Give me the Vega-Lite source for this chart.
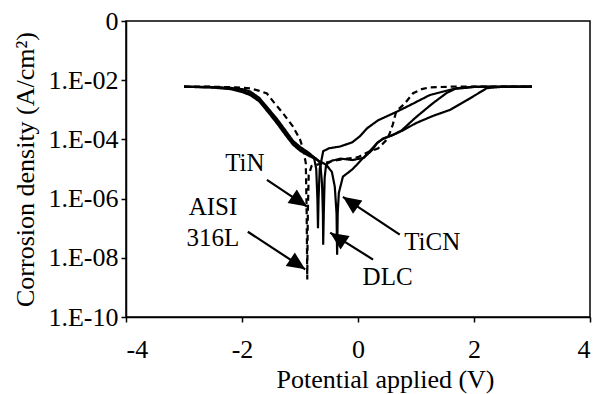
{
  "$schema": "https://vega.github.io/schema/vega-lite/v6.json",
  "width": 464,
  "height": 296,
  "autosize": {"type": "none"},
  "padding": {"left": 126, "top": 21, "right": 5, "bottom": 77},
  "background": "white",
  "config": {
    "font": "Liberation Serif",
    "view": {"stroke": "black", "strokeWidth": 1.5},
    "axis": {
      "grid": false,
      "domainColor": "black",
      "domainWidth": 1.5,
      "tickColor": "black",
      "tickWidth": 1.5,
      "tickSize": 5,
      "labelFont": "Liberation Serif",
      "labelFontSize": 26,
      "labelColor": "black",
      "titleFont": "Liberation Serif",
      "titleFontSize": 26,
      "titleFontWeight": "normal",
      "titleColor": "black"
    }
  },
  "datasets": {
    "curves": [
      {"series": "AISI 316L", "E": -3.0, "J": 6.03e-3},
      {"series": "AISI 316L", "E": -2.5, "J": 6.03e-3},
      {"series": "AISI 316L", "E": -2.1, "J": 5.75e-3},
      {"series": "AISI 316L", "E": -1.85, "J": 5.25e-3},
      {"series": "AISI 316L", "E": -1.7, "J": 4.37e-3},
      {"series": "AISI 316L", "E": -1.57, "J": 3.55e-3},
      {"series": "AISI 316L", "E": -1.45, "J": 1.78e-3},
      {"series": "AISI 316L", "E": -1.3, "J": 7.94e-4},
      {"series": "AISI 316L", "E": -1.12, "J": 2.69e-4},
      {"series": "AISI 316L", "E": -1.0, "J": 1.0e-4},
      {"series": "AISI 316L", "E": -0.95, "J": 5.01e-5},
      {"series": "AISI 316L", "E": -0.9, "J": 1.58e-5},
      {"series": "AISI 316L", "E": -0.885, "J": 3.16e-7},
      {"series": "AISI 316L", "E": -0.875, "J": 1.86e-9},
      {"series": "AISI 316L", "E": -0.865, "J": 3.16e-7},
      {"series": "AISI 316L", "E": -0.85, "J": 6.31e-6},
      {"series": "AISI 316L", "E": -0.8, "J": 1.26e-5},
      {"series": "AISI 316L", "E": -0.6, "J": 1.58e-5},
      {"series": "AISI 316L", "E": -0.36, "J": 2.0e-5},
      {"series": "AISI 316L", "E": 0.0, "J": 2.51e-5},
      {"series": "AISI 316L", "E": 0.15, "J": 3.55e-5},
      {"series": "AISI 316L", "E": 0.35, "J": 5.01e-5},
      {"series": "AISI 316L", "E": 0.5, "J": 1.0e-4},
      {"series": "AISI 316L", "E": 0.55, "J": 1.66e-4},
      {"series": "AISI 316L", "E": 0.6, "J": 3.16e-4},
      {"series": "AISI 316L", "E": 0.65, "J": 7.59e-4},
      {"series": "AISI 316L", "E": 0.7, "J": 1.05e-3},
      {"series": "AISI 316L", "E": 0.8, "J": 1.58e-3},
      {"series": "AISI 316L", "E": 0.95, "J": 3.63e-3},
      {"series": "AISI 316L", "E": 1.1, "J": 5.01e-3},
      {"series": "AISI 316L", "E": 1.24, "J": 5.75e-3},
      {"series": "AISI 316L", "E": 1.6, "J": 6.03e-3},
      {"series": "AISI 316L", "E": 3.0, "J": 6.03e-3},

      {"series": "TiN", "E": -3.0, "J": 6.03e-3},
      {"series": "TiN", "E": -2.5, "J": 5.89e-3},
      {"series": "TiN", "E": -2.2, "J": 5.50e-3},
      {"series": "TiN", "E": -2.0, "J": 5.01e-3},
      {"series": "TiN", "E": -1.86, "J": 4.17e-3},
      {"series": "TiN", "E": -1.7, "J": 2.51e-3},
      {"series": "TiN", "E": -1.55, "J": 1.12e-3},
      {"series": "TiN", "E": -1.4, "J": 5.01e-4},
      {"series": "TiN", "E": -1.25, "J": 2.0e-4},
      {"series": "TiN", "E": -1.12, "J": 8.91e-5},
      {"series": "TiN", "E": -1.0, "J": 5.62e-5},
      {"series": "TiN", "E": -0.85, "J": 3.55e-5},
      {"series": "TiN", "E": -0.76, "J": 2.51e-5},
      {"series": "TiN", "E": -0.72, "J": 1.0e-5},
      {"series": "TiN", "E": -0.7, "J": 1.0e-6},
      {"series": "TiN", "E": -0.69, "J": 1.0e-7},
      {"series": "TiN", "E": -0.68, "J": 1.0e-6},
      {"series": "TiN", "E": -0.66, "J": 1.0e-5},
      {"series": "TiN", "E": -0.6, "J": 3.98e-5},
      {"series": "TiN", "E": -0.5, "J": 5.01e-5},
      {"series": "TiN", "E": -0.31, "J": 5.75e-5},
      {"series": "TiN", "E": -0.1, "J": 7.94e-5},
      {"series": "TiN", "E": 0.03, "J": 1.26e-4},
      {"series": "TiN", "E": 0.16, "J": 2.40e-4},
      {"series": "TiN", "E": 0.35, "J": 4.47e-4},
      {"series": "TiN", "E": 0.61, "J": 7.59e-4},
      {"series": "TiN", "E": 0.84, "J": 1.26e-3},
      {"series": "TiN", "E": 1.24, "J": 3.16e-3},
      {"series": "TiN", "E": 1.64, "J": 5.01e-3},
      {"series": "TiN", "E": 2.0, "J": 5.89e-3},
      {"series": "TiN", "E": 3.0, "J": 6.03e-3},

      {"series": "DLC", "E": -3.0, "J": 6.03e-3},
      {"series": "DLC", "E": -2.5, "J": 5.75e-3},
      {"series": "DLC", "E": -2.2, "J": 5.25e-3},
      {"series": "DLC", "E": -2.0, "J": 4.47e-3},
      {"series": "DLC", "E": -1.86, "J": 3.55e-3},
      {"series": "DLC", "E": -1.7, "J": 2.09e-3},
      {"series": "DLC", "E": -1.55, "J": 9.55e-4},
      {"series": "DLC", "E": -1.4, "J": 4.17e-4},
      {"series": "DLC", "E": -1.25, "J": 1.66e-4},
      {"series": "DLC", "E": -1.12, "J": 7.59e-5},
      {"series": "DLC", "E": -1.0, "J": 4.79e-5},
      {"series": "DLC", "E": -0.85, "J": 3.16e-5},
      {"series": "DLC", "E": -0.72, "J": 2.24e-5},
      {"series": "DLC", "E": -0.65, "J": 1.58e-5},
      {"series": "DLC", "E": -0.62, "J": 3.16e-6},
      {"series": "DLC", "E": -0.605, "J": 3.16e-7},
      {"series": "DLC", "E": -0.6, "J": 2.75e-8},
      {"series": "DLC", "E": -0.59, "J": 3.16e-7},
      {"series": "DLC", "E": -0.575, "J": 5.01e-6},
      {"series": "DLC", "E": -0.55, "J": 1.41e-5},
      {"series": "DLC", "E": -0.45, "J": 1.91e-5},
      {"series": "DLC", "E": -0.3, "J": 2.24e-5},
      {"series": "DLC", "E": -0.1, "J": 2.0e-5},
      {"series": "DLC", "E": 0.1, "J": 2.40e-5},
      {"series": "DLC", "E": 0.25, "J": 4.47e-5},
      {"series": "DLC", "E": 0.33, "J": 7.59e-5},
      {"series": "DLC", "E": 0.43, "J": 1.05e-4},
      {"series": "DLC", "E": 0.6, "J": 1.41e-4},
      {"series": "DLC", "E": 0.75, "J": 1.91e-4},
      {"series": "DLC", "E": 1.0, "J": 3.55e-4},
      {"series": "DLC", "E": 1.3, "J": 6.31e-4},
      {"series": "DLC", "E": 1.59, "J": 1.0e-3},
      {"series": "DLC", "E": 1.9, "J": 2.24e-3},
      {"series": "DLC", "E": 2.22, "J": 5.37e-3},
      {"series": "DLC", "E": 2.5, "J": 6.03e-3},
      {"series": "DLC", "E": 3.0, "J": 6.03e-3},

      {"series": "TiCN", "E": -3.0, "J": 6.03e-3},
      {"series": "TiCN", "E": -2.5, "J": 5.62e-3},
      {"series": "TiCN", "E": -2.2, "J": 5.01e-3},
      {"series": "TiCN", "E": -2.0, "J": 3.98e-3},
      {"series": "TiCN", "E": -1.86, "J": 3.16e-3},
      {"series": "TiCN", "E": -1.7, "J": 1.91e-3},
      {"series": "TiCN", "E": -1.55, "J": 8.32e-4},
      {"series": "TiCN", "E": -1.4, "J": 3.55e-4},
      {"series": "TiCN", "E": -1.25, "J": 1.41e-4},
      {"series": "TiCN", "E": -1.12, "J": 6.61e-5},
      {"series": "TiCN", "E": -1.0, "J": 4.17e-5},
      {"series": "TiCN", "E": -0.85, "J": 2.82e-5},
      {"series": "TiCN", "E": -0.7, "J": 2.0e-5},
      {"series": "TiCN", "E": -0.55, "J": 1.41e-5},
      {"series": "TiCN", "E": -0.45, "J": 7.94e-6},
      {"series": "TiCN", "E": -0.4, "J": 2.51e-6},
      {"series": "TiCN", "E": -0.37, "J": 3.16e-7},
      {"series": "TiCN", "E": -0.36, "J": 1.26e-8},
      {"series": "TiCN", "E": -0.35, "J": 3.16e-7},
      {"series": "TiCN", "E": -0.33, "J": 1.58e-6},
      {"series": "TiCN", "E": -0.26, "J": 5.50e-6},
      {"series": "TiCN", "E": -0.09, "J": 1.0e-5},
      {"series": "TiCN", "E": 0.03, "J": 1.78e-5},
      {"series": "TiCN", "E": 0.2, "J": 3.98e-5},
      {"series": "TiCN", "E": 0.33, "J": 7.59e-5},
      {"series": "TiCN", "E": 0.43, "J": 1.05e-4},
      {"series": "TiCN", "E": 0.6, "J": 1.41e-4},
      {"series": "TiCN", "E": 0.75, "J": 2.0e-4},
      {"series": "TiCN", "E": 1.0, "J": 5.62e-4},
      {"series": "TiCN", "E": 1.29, "J": 1.66e-3},
      {"series": "TiCN", "E": 1.53, "J": 3.72e-3},
      {"series": "TiCN", "E": 1.7, "J": 5.37e-3},
      {"series": "TiCN", "E": 2.0, "J": 6.03e-3},
      {"series": "TiCN", "E": 3.0, "J": 6.03e-3}
    ],
    "arrows": [
      {"label": "TiN", "E2": -1.57, "J2": 4.27e-6, "E": -0.88, "J": 5.37e-7},
      {"label": "AISI 316L", "E2": -1.9, "J2": 7.59e-8, "E": -0.91, "J": 4.07e-9},
      {"label": "TiCN", "E2": 0.72, "J2": 6.03e-8, "E": -0.26, "J": 1.15e-6},
      {"label": "DLC", "E2": 0.26, "J2": 8.71e-9, "E": -0.48, "J": 7.08e-8}
    ],
    "labels": [
      {"text": "TiN", "E": -1.95, "J": 1.62e-5},
      {"text": "AISI", "E": -2.5, "J": 5.25e-7},
      {"text": "316L", "E": -2.5, "J": 4.79e-8},
      {"text": "TiCN", "E": 1.28, "J": 3.3e-8},
      {"text": "DLC", "E": 0.51, "J": 2.29e-9}
    ]
  },
  "encoding": {
    "x": {"field": "E", "type": "quantitative", "title": "Potential applied (V)",
          "scale": {"domain": [-4, 4], "nice": false},
          "axis": {"values": [-4, -2, 0, 2, 4], "labelPadding": 14,
                   "labelExpr": "datum.value < 0 ? '-' + abs(datum.value) : '' + datum.value",
                   "titleX": 259, "titleY": 70, "titleBaseline": "alphabetic", "titleAlign": "center"}},
    "y": {"field": "J", "type": "quantitative", "title": "Corrosion density (A/cm²)",
          "scale": {"type": "log", "domain": [1e-10, 1], "nice": false},
          "axis": {"values": [1e-10, 1e-8, 1e-6, 1e-4, 1e-2, 1], "labelPadding": 3,
                   "labelExpr": "datum.value >= 0.5 ? '0' : '1.E-' + (round(-log(datum.value)/LN10) < 10 ? '0' : '') + round(-log(datum.value)/LN10)",
                   "titleX": -101, "titleY": 148, "titleAngle": 270, "titleAlign": "center", "titleBaseline": "middle"}}
  },
  "layer": [
    {
      "data": {"name": "curves"},
      "mark": {"type": "line", "color": "black", "strokeWidth": 2.2, "interpolate": "linear"},
      "encoding": {
        "detail": {"field": "series", "type": "nominal"},
        "strokeDash": {"field": "series", "type": "nominal", "legend": null,
                       "scale": {"domain": ["AISI 316L", "TiN", "DLC", "TiCN"], "range": [[6, 4], [1, 0], [1, 0], [1, 0]]}}
      }
    },
    {
      "data": {"name": "arrows"},
      "mark": {"type": "rule", "color": "black", "strokeWidth": 2.2},
      "encoding": {
        "x2": {"field": "E2"},
        "y2": {"field": "J2"}
      }
    },
    {
      "data": {"name": "arrows"},
      "transform": [{"filter": "datum.label == 'TiN'"}],
      "mark": {"type": "point", "shape": "M0,0L0.45,1L-0.45,1Z", "filled": true, "color": "black", "opacity": 1, "size": 1300, "angle": 125, "strokeWidth": 0}
    },
    {
      "data": {"name": "arrows"},
      "transform": [{"filter": "datum.label == 'AISI 316L'"}],
      "mark": {"type": "point", "shape": "M0,0L0.45,1L-0.45,1Z", "filled": true, "color": "black", "opacity": 1, "size": 1300, "angle": 124, "strokeWidth": 0}
    },
    {
      "data": {"name": "arrows"},
      "transform": [{"filter": "datum.label == 'TiCN'"}],
      "mark": {"type": "point", "shape": "M0,0L0.45,1L-0.45,1Z", "filled": true, "color": "black", "opacity": 1, "size": 1300, "angle": 305, "strokeWidth": 0}
    },
    {
      "data": {"name": "arrows"},
      "transform": [{"filter": "datum.label == 'DLC'"}],
      "mark": {"type": "point", "shape": "M0,0L0.45,1L-0.45,1Z", "filled": true, "color": "black", "opacity": 1, "size": 1300, "angle": 304, "strokeWidth": 0}
    },
    {
      "data": {"name": "labels"},
      "mark": {"type": "text", "font": "Liberation Serif", "fontSize": 25, "color": "black", "align": "center", "baseline": "middle"},
      "encoding": {
        "text": {"field": "text"}
      }
    }
  ]
}
